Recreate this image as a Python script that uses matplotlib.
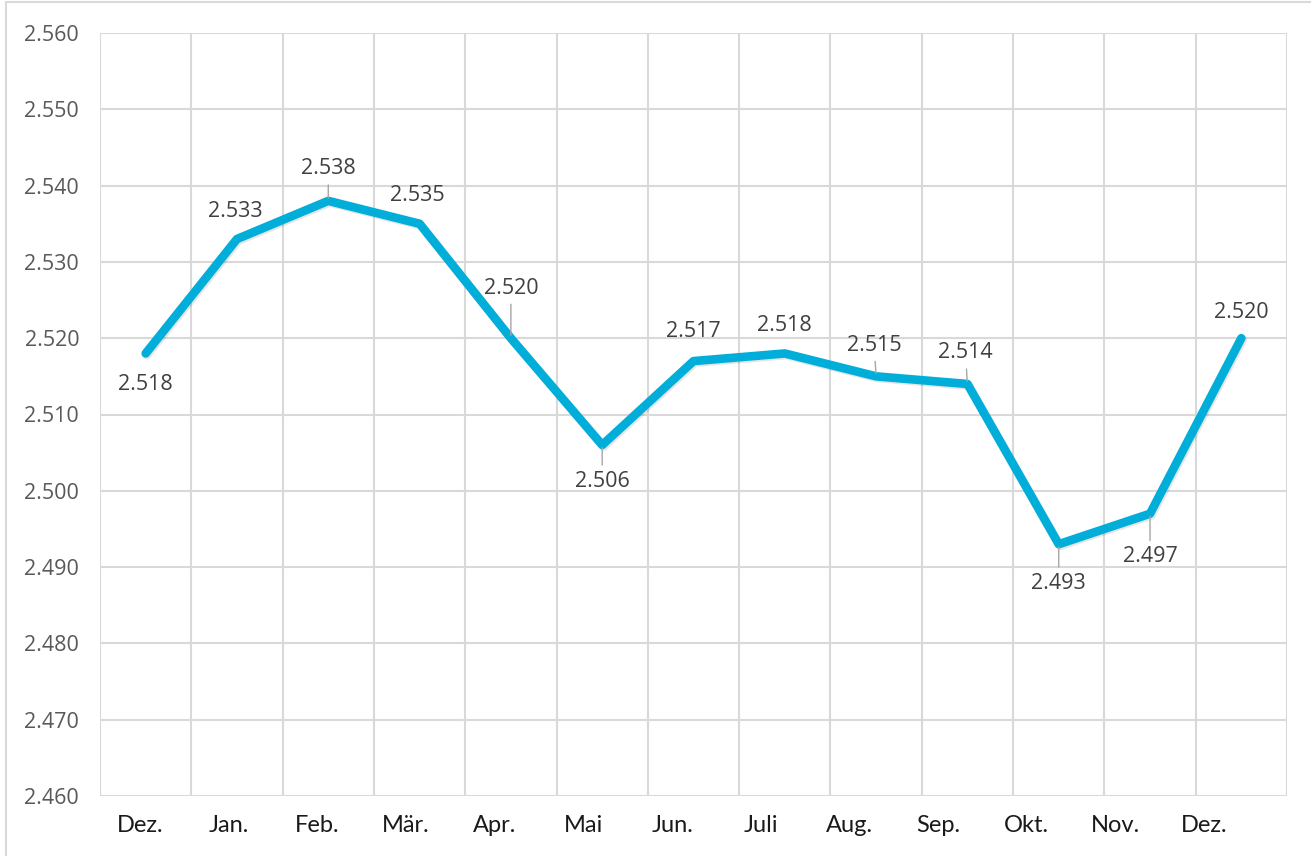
import numpy as np
import matplotlib
matplotlib.use("Agg")
import matplotlib.pyplot as plt
import matplotlib.patheffects as pe
from matplotlib.patches import Rectangle

# data
months = ["Dez.", "Jan.", "Feb.", "Mär.", "Apr.", "Mai", "Jun.", "Juli",
          "Aug.", "Sep.", "Okt.", "Nov.", "Dez."]
values = [2518, 2533, 2538, 2535, 2520, 2506, 2517, 2518, 2515, 2514, 2493, 2497, 2520]
y_ticks = list(range(2460, 2561, 10))

# label offsets (pixels) and whether a leader line is drawn
label_offsets = [(0, -31), (-2, 28), (0, 32), (-2, 28), (0, 50), (0, -36), (0, 30),
                 (0, 28), (-2, 31), (-2, 31), (0, -39), (0, -43), (0, 26)]
leaders = [False, False, True, False, True, True, False, False, True, True, True, True, False]


def de_fmt(v):
    return f"{v:,}".replace(",", ".")


fig = plt.figure(figsize=(13.11, 8.56), dpi=100)
ax = fig.add_axes([100 / 1311, 1 - 796 / 856, 1187 / 1311, 763 / 856])

# outer chart frame (only top and left visible in the reference)
fig.patches.append(Rectangle((6 / 1311, -0.1), 1.2, 1.1 - 2 / 856, transform=fig.transFigure,
                             fill=False, edgecolor="#d9d9d9", linewidth=1.5))

x = np.arange(len(values))
ax.plot(x, values, color="#00aed9", linewidth=6.2, solid_capstyle="round",
        solid_joinstyle="round", zorder=3,
        path_effects=[pe.SimpleLineShadow(offset=(1, -1.2), alpha=0.1, shadow_color="black"),
                      pe.Normal()])

for i, v in enumerate(values):
    dx, dy = label_offsets[i]
    props = None
    if leaders[i]:
        props = dict(arrowstyle="-", color="#a6a6a6", lw=1.0, shrinkA=2, shrinkB=2)
    ax.annotate(de_fmt(v), (i, v), xytext=(dx, dy),
                textcoords="offset pixels", ha="center", va="center",
                fontsize=15.5, family="Open Sans", color="#404040",
                arrowprops=props, zorder=4)

ax.set_xlim(-0.5, len(values) - 0.5)
ax.set_ylim(2460, 2560)

ax.set_yticks(y_ticks)
ax.set_yticklabels([de_fmt(t) for t in y_ticks], family="Open Sans", fontsize=15.5,
                   color="#595959")
ax.set_xticks(np.arange(len(months)) * 0.971 - 0.06)
ax.set_xticklabels(months, family="Lato", fontsize=17, color="#1a1a1a")
ax.set_xticks(np.arange(len(months) + 1) - 0.5, minor=True)
ax.tick_params(axis="both", which="both", length=0)
ax.tick_params(axis="y", pad=15)
ax.tick_params(axis="x", pad=14)

ax.grid(axis="y", which="major", color="#d9d9d9", linewidth=1.5)
ax.grid(axis="x", which="minor", color="#d9d9d9", linewidth=1.5)
ax.grid(axis="x", which="major", visible=False)
ax.set_axisbelow(True)
for s in ax.spines.values():
    s.set_visible(False)

fig.savefig("out.png", dpi=100, facecolor="white")
